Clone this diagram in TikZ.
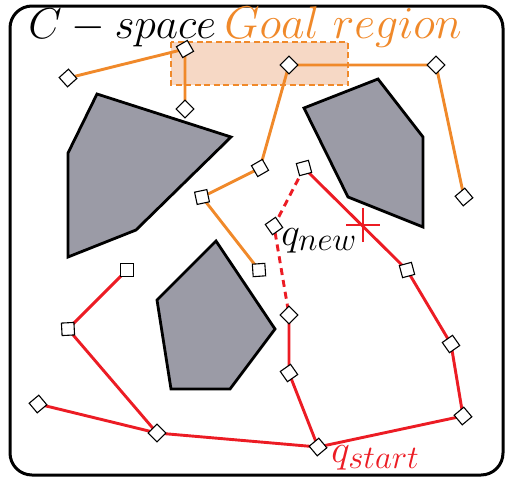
\documentclass[tikz,border=0pt]{standalone}
\usepackage{xcolor}
\usepackage{tikz}
\usetikzlibrary{positioning}
\definecolor{rrtOrange}{HTML}{F0892A}
\definecolor{rrtRed}{HTML}{EC1C24}
\definecolor{rrtGoal}{HTML}{F6D8C5}
\definecolor{rrtObst}{HTML}{9B9BA6}
\pgfdeclarelayer{obstlayer}
\pgfdeclarelayer{edgelayer}
\pgfsetlayers{obstlayer,edgelayer,main}

\begin{document}
\begin{tikzpicture}[x=1pt, y=-1pt,
    smp/.style={draw=black, fill=white, line width=1.1pt, rectangle,
                minimum size=12.5pt, inner sep=0pt},
    obst/.style={draw=black, fill=rrtObst, line width=2.8pt, line join=miter},
    oedge/.style={draw=rrtOrange, line width=2.9pt},
    redge/.style={draw=rrtRed, line width=2.9pt},
    lbl/.style={inner sep=0pt, font=\Huge}]

    \useasboundingbox (0,0) rectangle (506,480);

    \begin{pgfonlayer}{obstlayer}
    % frame of the configuration space
    \draw[line width=3pt, rounded corners=22pt] (10,6) rectangle (503,475);
    % goal region
    \draw[fill=rrtGoal, draw=rrtOrange, dash pattern=on 6pt off 3.5pt, line width=2.8pt] (171,42) rectangle (348,85);
    % obstacles
    \draw[obst] (97,94) -- (231,137) -- (136,230) -- (68,257) -- (68,153) -- cycle;
    \draw[obst] (304,108) -- (378,79) -- (423,137) -- (423,227) -- (348,197) -- cycle;
    \draw[obst] (216,241) -- (275,329) -- (230,389) -- (171,389) -- (157,300) -- cycle;
    \end{pgfonlayer}

    \node[lbl, scale=1.74, anchor=base west] (cspace) at (28,38) {$C - space$};
    \node[lbl, scale=1.84, text=rrtOrange, anchor=base west] (goallbl) at (224,38) {$Goal\ region$};

    % goal tree samples
    \node[smp, rotate=42] (g1) at (68,78) {};
    \node[smp, rotate=30] (g2) at (185,49) {};
    \node[smp, rotate=45] (g3) at (185,109) {};
    \node[smp, rotate=45] (g4) at (289,65) {};
    \node[smp, rotate=45] (g5) at (436,65) {};
    \node[smp, rotate=40] (g6) at (464,197) {};
    \node[smp, rotate=30] (g7) at (260,168) {};
    \node[smp, rotate=12] (g8) at (202,197) {};
    \node[smp, rotate=4] (g9) at (259,270) {};

    % start tree samples
    \node[smp, rotate=40] (qs) at (318,447) {};
    \node[smp, rotate=45] (s1) at (157,433) {};
    \node[smp, rotate=40] (s2) at (38,404) {};
    \node[smp, rotate=3] (s3) at (68,329) {};
    \node[smp, rotate=0] (s4) at (127,270) {};
    \node[smp, rotate=35] (s5) at (289,373) {};
    \node[smp, rotate=45] (s6) at (289,315) {};
    \node[smp, rotate=40] (s7) at (463,416) {};
    \node[smp, rotate=35] (s8) at (451,344) {};
    \node[smp, rotate=15] (s9) at (407,270) {};
    \node[smp, rotate=15] (s10) at (304,168) {};
    \node[smp, rotate=35] (qn) at (274,226) {};

    \begin{pgfonlayer}{edgelayer}
    \draw[oedge] (g1.center) -- (g2.center) -- (g3.center);
    \draw[oedge] (g4.center) -- (g5.center) -- (g6.center);
    \draw[oedge] (g4.center) -- (g7.center) -- (g8.center) -- (g9.center);

    \draw[redge] (s2.center) -- (s1.center) -- (s3.center) -- (s4.center);
    \draw[redge] (s1.center) -- (qs.center) -- (s5.center) -- (s6.center);
    \draw[redge] (qs.center) -- (s7.center) -- (s8.center) -- (s9.center) -- (s10.center);
    \draw[redge, dash pattern=on 7pt off 5pt] (s10.center) -- (qn.center) -- (s6.center);
    \end{pgfonlayer}

    % collision mark
    \coordinate (hit) at (363,225);
    \draw[draw=rrtRed, line width=2.2pt] ([xshift=-17pt]hit) -- ([xshift=17pt]hit);
    \draw[draw=rrtRed, line width=2.2pt] ([yshift=-17pt]hit) -- ([yshift=17pt]hit);

    \node[lbl, scale=1.58, anchor=base west] (qnewlbl) at (281,245) {$q_{new}$};
    \node[lbl, scale=1.58, anchor=base west, text=rrtRed] (qstartlbl) at (331,462) {$q_{start}$};
\end{tikzpicture}
\end{document}
